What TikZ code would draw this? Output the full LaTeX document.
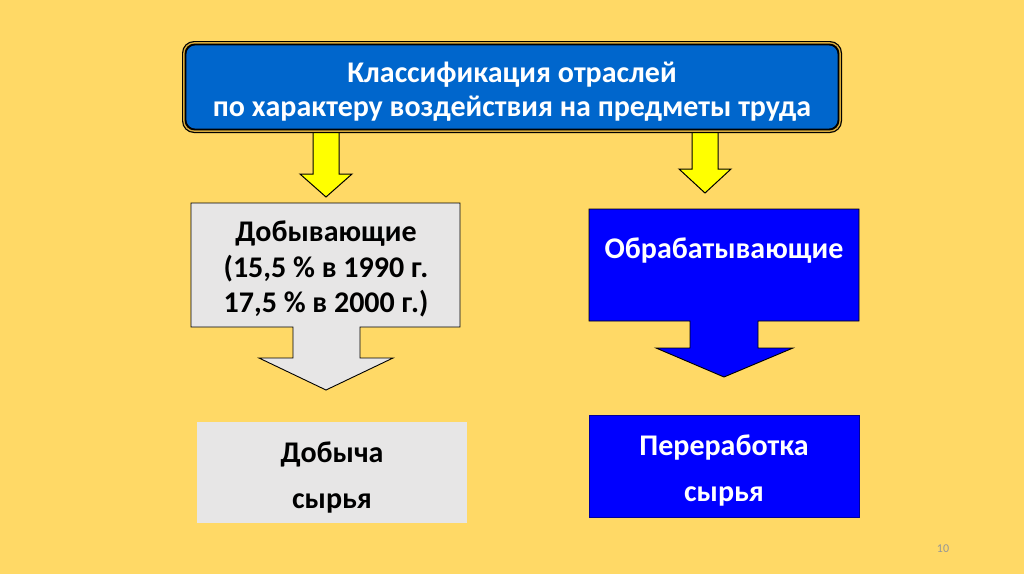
\documentclass[tikz,border=0pt]{standalone}
\usepackage{fontspec}
\setmainfont{Carlito}
\definecolor{bg}{RGB}{255,217,102}
\definecolor{topblue}{RGB}{0,102,204}
\definecolor{gold}{RGB}{214,170,60}
\definecolor{lightgray}{RGB}{231,230,230}
\definecolor{pureblue}{RGB}{0,0,255}
\definecolor{arrowyellow}{RGB}{255,255,0}
\definecolor{pagegray}{RGB}{150,150,150}
\tikzset{
  yarrow/.style={fill=arrowyellow, draw=black, line width=1pt, line join=miter},
  grayshape/.style={fill=lightgray, draw=black, line width=0.9pt, line join=miter},
  blueshape/.style={fill=pureblue, draw=black, line width=0.9pt, line join=miter},
  toptext/.style={text=white, align=center, font=\bfseries\fontsize{30}{34}\selectfont},
  lefttext/.style={text=black, align=center, font=\bfseries\fontsize{30}{35.5}\selectfont},
  righttext/.style={text=white, align=center, font=\bfseries\fontsize{30}{35}\selectfont},
  botgray/.style={fill=lightgray, minimum width=270pt, minimum height=101pt, inner sep=0pt},
  botblue/.style={fill=pureblue, draw=blue!60!black, line width=0.6pt, minimum width=270pt, minimum height=102pt, inner sep=0pt},
  bottext/.style={align=center, font=\bfseries\fontsize{30}{46}\selectfont},
}
\begin{document}
\begin{tikzpicture}[x=1pt,y=-1pt]
\fill[bg] (0,0) rectangle (1024,574);
\useasboundingbox (0,0) rectangle (1024,574);

% yellow arrows (connectors from the top box)
\coordinate (la) at (326,128);
\coordinate (ra) at (705,128);
\path[yarrow] (la) ++(-13,0) -- ++(0,46) -- ++(-13,0) -- (326,197) -- ++(26,-23) -- ++(-13,0) -- ++(0,-46) -- cycle;
\path[yarrow] (ra) ++(-13,0) -- ++(0,41) -- ++(-13,0) -- (705,193) -- ++(26,-24) -- ++(-13,0) -- ++(0,-41) -- cycle;

% top box with double border
\fill[black, rounded corners=12] (182,41) rectangle (842,133);
\fill[gold, rounded corners=11] (183.2,42.2) rectangle (840.8,131.8);
\fill[black, rounded corners=10] (184.6,43.6) rectangle (839.4,130.4);
\fill[topblue, rounded corners=9] (186.4,45.4) rectangle (837.6,128.6);
\node[toptext] (top) at (512,91.5) {Классификация отраслей\\по характеру воздействия на предметы труда};

% left callout
\path[grayshape] (191,203) -- (460,203) -- (460,327) -- (360,327) -- (360,358) -- (393,358) -- (326,390) -- (259,358) -- (293,358) -- (293,327) -- (191,327) -- cycle;
\node[lefttext] (dob) at (326,269) {Добывающие\\(15,5 \% в 1990 г.\\17,5 \% в 2000 г.)};

% right callout
\path[blueshape] (589,209) -- (859,209) -- (859,321) -- (758,321) -- (758,348) -- (793,348) -- (724,377) -- (656,348) -- (690,348) -- (690,321) -- (589,321) -- cycle;
\node[righttext] (obr) at (724,251) {Обрабатывающие};

% bottom boxes
\node[botgray] (dobycha) at (332,472.5) {};
\node[bottext, text=black] (dobychat) at (332,478) {Добыча\\сырья};
\node[botblue] (perer) at (724,466) {};
\node[bottext, text=white] (perert) at (724,471) {Переработка\\сырья};

% page number
\node[text=pagegray, font=\fontsize{12}{14}\selectfont] (page) at (943,549) {10};
\end{tikzpicture}
\end{document}
